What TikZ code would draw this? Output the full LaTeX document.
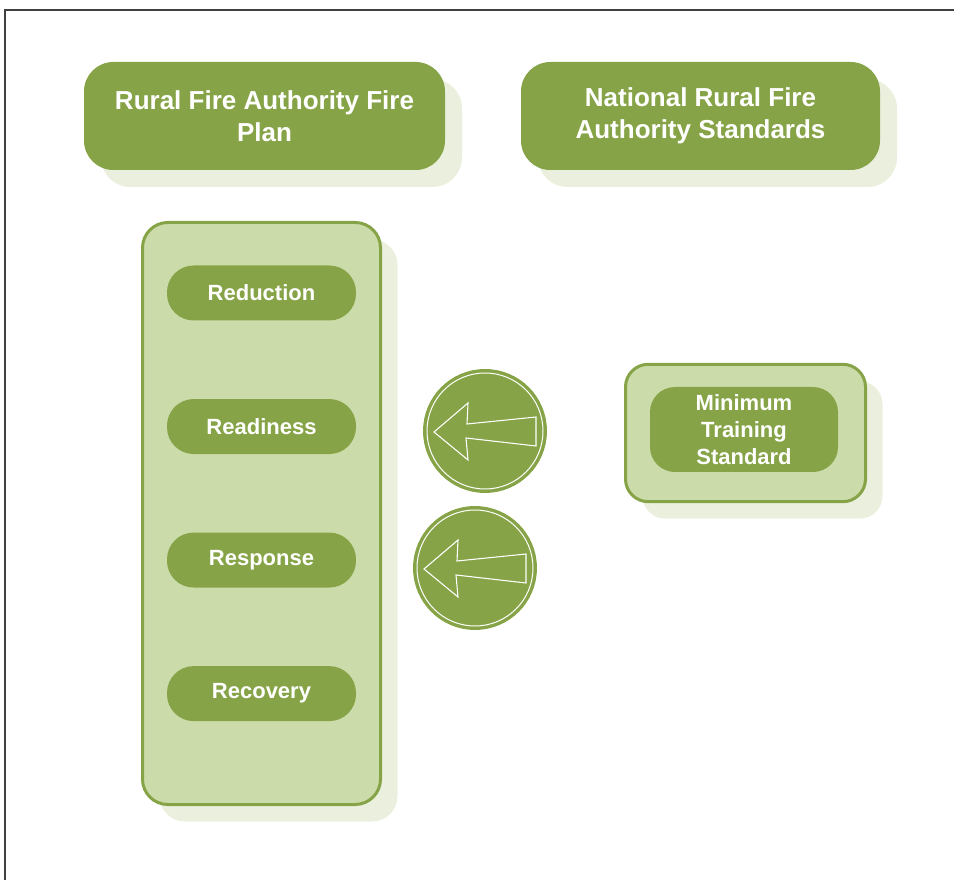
\documentclass[tikz,border=0pt]{standalone}
\usepackage{fontspec}
\setmainfont{Liberation Sans}
\usepackage{tikz}
\usetikzlibrary{shapes.geometric, shadows, positioning}
\definecolor{firegreen}{HTML}{86A447}
\definecolor{palegreen}{HTML}{CCDBAA}
\definecolor{shadowgreen}{HTML}{EBF0DE}
\tikzstyle{greyshadow} = [drop shadow={shadow xshift=12.75pt, shadow yshift=-12.75pt, fill=shadowgreen, opacity=1}]
\tikzstyle{title} = [rectangle, rounded corners=22pt, fill=firegreen, text=white, align=center, minimum width=270.75pt, minimum height=81pt, font=\fontsize{19.5}{24}\selectfont\bfseries, greyshadow]
\tikzstyle{panel} = [rectangle, rounded corners=19pt, draw=firegreen, line width=2.25pt, fill=palegreen, greyshadow]
\tikzstyle{pill} = [rectangle, rounded corners=20pt, fill=firegreen, text=white, align=center, minimum width=141.75pt, minimum height=41.25pt, font=\fontsize{16.5}{20}\selectfont\bfseries]
\tikzstyle{ring} = [circle, fill=firegreen, draw=firegreen, line width=2.6pt, double=white, double distance=0.75pt, minimum size=87pt, inner sep=0pt]
\tikzstyle{arrowline} = [draw=white, line width=0.8pt, line join=miter]

\begin{document}
\begin{tikzpicture}[x=0.75pt, y=-0.75pt, node distance=58.5pt]
\useasboundingbox (0,0) rectangle (954,880);

% Frame
\draw[black!75, line width=1.1pt] (5,880) -- (5,10) -- (954,10);

% Headings
\node (fireplan) [title] at (264.5,116) {Rural Fire Authority Fire\\Plan};
\node (standards) [title, minimum width=269.25pt] at (700.5,116) {National Rural Fire\\Authority Standards};

% Fire plan panel
\node (planbox) [panel, minimum width=178.5pt, minimum height=436.5pt] at (261.5,513.5) {};
\node (reduction) [pill] at (261.5,293) {Reduction};
\node (readiness) [pill, below=of reduction] {Readiness};
\node (response) [pill, below=of readiness] {Response};
\node (recovery) [pill, below=of response] {Recovery};

% Training standard
\node (trainbox) [panel, minimum width=180pt, minimum height=103pt, rounded corners=17pt] at (745.5,433) {};
\node (training) [pill, minimum width=141pt, minimum height=63.75pt, rounded corners=18.75pt, inner sep=2pt, font=\fontsize{16.5}{20}\selectfont\bfseries] at (744,429.5) {Minimum\\Training\\Standard};

% Arrows
\node (arrowa) [ring] at (485,431) {};
\node (arrowb) [ring] at (475,568) {};
\foreach \c in {arrowa, arrowb} {
  \begin{scope}[shift={(\c.center)}]
    \draw[arrowline] (-51,1) -- (-17,-28) -- (-18,-7) -- (51,-14) -- (51,15) -- (-19,7) -- (-17,29) -- cycle;
  \end{scope}
}

\end{tikzpicture}
\end{document}
